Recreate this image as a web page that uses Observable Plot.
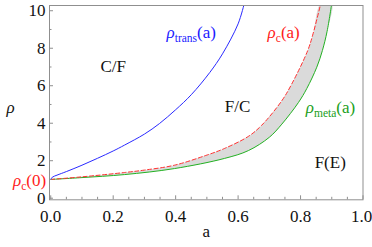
<!DOCTYPE html>
<html>
<head>
<meta charset="utf-8">
<script src="https://cdn.jsdelivr.net/npm/d3@7"></script>
<script src="https://cdn.jsdelivr.net/npm/@observablehq/plot@0.6"></script>
<style>
  html, body { margin: 0; padding: 0; background: #fff; }
  #chart svg { display: block; }
  #chart svg, #chart svg text { font-family: "Liberation Serif", "Times New Roman", serif !important; }
</style>
</head>
<body>
<div id="chart"></div>
<script>
// ρ_trans(a) — blue solid
const aTrans   = [0, 0.005, 0.02, 0.05, 0.1, 0.15, 0.2, 0.236, 0.3, 0.348, 0.4, 0.45, 0.509, 0.55, 0.6, 0.62];
const rhoTrans = [1.0, 1.12, 1.23, 1.42, 1.76, 2.13, 2.52, 2.83, 3.42, 3.98, 4.72, 5.52, 6.7, 7.7, 9.3, 10.4];
// ρ_c(a) — red dashed
const aC   = [0, 0.1, 0.236, 0.3, 0.396, 0.5, 0.556, 0.633, 0.676, 0.74, 0.772, 0.823, 0.84, 0.865];
const rhoC = [1.0, 1.14, 1.37, 1.5, 1.76, 2.3, 2.65, 3.3, 3.9, 5.2, 6.1, 7.88, 8.77, 10.4];
// ρ_meta(a) — green solid
const aMeta   = [0, 0.1, 0.236, 0.396, 0.556, 0.633, 0.7, 0.74, 0.793, 0.82, 0.852, 0.87, 0.885, 0.9];
const rhoMeta = [1.0, 1.1, 1.26, 1.58, 2.12, 2.54, 3.25, 3.95, 5.1, 5.85, 6.99, 7.88, 8.9, 10.4];

// axis ticks
const xMajor = [0, 0.2, 0.4, 0.6, 0.8];
const xLast  = [1.0];
const xMinor = [0.05, 0.1, 0.15, 0.25, 0.3, 0.35, 0.45, 0.5, 0.55, 0.65, 0.7, 0.75, 0.85, 0.9, 0.95];
const yMajor = [0, 2, 4, 6, 8, 10];
const yMinor = [1, 3, 5, 7, 9];

// region labels
const regionText = ["C/F", "F/C", "F(E)"];
const regionA    = [0.2, 0.598, 0.895];
const regionRho  = [7.0, 4.9, 1.89];

// curve labels: ρ + subscript + tail
const curveSub   = ["trans", "c", "meta", "c"];
const curveTail  = ["(a)", "(a)", "(a)", "(0)"];
const curveA     = [0.45, 0.746, 0.896, -0.068];
const curveRho   = [8.85, 8.85, 4.85, 0.93];
const curveColor = ["#1a1aff", "#ff1a1a", "#1aa01a", "#ff1a1a"];

const zip = (xs, ys) => xs.map((x, i) => ({a: x, r: ys[i]}));
const trans = zip(aTrans, rhoTrans);
const crit  = zip(aC, rhoC);
const meta  = zip(aMeta, rhoMeta);
const band  = crit.concat(meta.slice().reverse());

const regions = regionText.map((t, i) => ({t, a: regionA[i], r: regionRho[i]}));
const curves  = curveSub.map((s, i) => ({key: "ρ" + s + curveTail[i], sub: s, tail: curveTail[i], a: curveA[i], r: curveRho[i], c: curveColor[i]}));

const W = 372, H = 247;
const mL = 49, mR = 9.5, mT = 5, mB = 47.7;
const frameH = H - mT - mB, frameW = W - mL - mR;
const axisCol = "#8f8f8f";
const font = "Liberation Serif";

const svg = Plot.plot({
  width: W, height: H,
  marginLeft: mL, marginRight: mR, marginTop: mT, marginBottom: mB,
  x: {domain: [-0.004, 1.0]},
  y: {domain: [-0.085, 10.28]},
  style: {fontFamily: font, fontSize: "17px", background: "#fff", color: "#111"},
  marks: [
    Plot.line(band, {x: "a", y: "r", fill: "#dadada", stroke: "none", curve: "catmull-rom", clip: true}),
    Plot.line(meta, {x: "a", y: "r", stroke: "#22b022", strokeWidth: 1, curve: "catmull-rom", clip: true}),
    Plot.line(crit, {x: "a", y: "r", stroke: "#ff3030", strokeWidth: 1, strokeDasharray: "4,2.5", curve: "catmull-rom", clip: true}),
    Plot.line(trans, {x: "a", y: "r", stroke: "#2a2aff", strokeWidth: 1, curve: "catmull-rom", clip: true}),
    Plot.frame({stroke: axisCol, strokeWidth: 1}),
    Plot.tickX(xMajor.concat(xLast), {x: d => d, stroke: axisCol, insetTop: frameH - 4}),
    Plot.tickX(xMinor, {x: d => d, stroke: axisCol, insetTop: frameH - 2.5}),
    Plot.tickY(yMajor, {y: d => d, stroke: axisCol, insetRight: frameW - 4}),
    Plot.tickY(yMinor, {y: d => d, stroke: axisCol, insetRight: frameW - 2.5}),
    Plot.axisX(xMajor, {tickSize: 0, tickPadding: 10, tickFormat: d3.format(".1f"), label: null, fontSize: 17, fill: "#111"}),
    Plot.axisX(xLast, {tickSize: 0, tickPadding: 10, tickFormat: d3.format(".1f"), label: null, fontSize: 17, fill: "#111", dx: -1.5}),
    Plot.axisY(yMajor, {tickSize: 0, tickPadding: 4, tickFormat: d3.format("d"), label: null, fontSize: 17, fill: "#111"}),
    Plot.text(["a"], {frameAnchor: "bottom", dy: 37, fontSize: 17, fill: "#111"}),
    Plot.text(["ρ"], {frameAnchor: "left", dx: -43, dy: 5, fontSize: 17, fontStyle: "italic", fill: "#111"}),
    Plot.text(regions, {x: "a", y: "r", text: "t", fontSize: 17, fill: "#111"}),
    Plot.text(curves, {x: "a", y: "r", text: "key", fill: "c", fontSize: 17})
  ]
});

// rebuild curve labels with italic ρ and subscripts
const byKey = new Map(curves.map(d => [d.key, d]));
d3.select(svg).selectAll("text").each(function() {
  const d = byKey.get(this.textContent);
  if (!d) return;
  const t = d3.select(this);
  t.text(null);
  t.append("tspan").attr("font-style", "italic").text("ρ");
  t.append("tspan").attr("font-size", "11.5px").attr("dy", "4").text(d.sub);
  t.append("tspan").attr("dy", "-4").text(d.tail);
});
d3.select(svg).selectAll("text").attr("font-family", font);

document.getElementById("chart").appendChild(svg);
</script>
</body>
</html>
